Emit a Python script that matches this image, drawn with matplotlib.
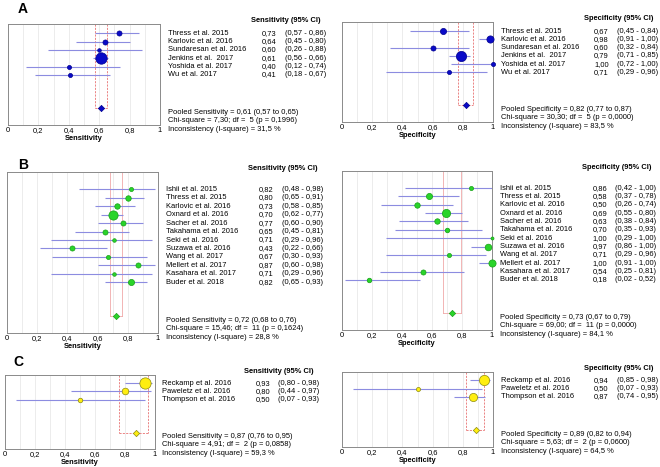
import matplotlib
matplotlib.use("Agg")
import matplotlib.pyplot as plt
import numpy as np

plt.rcParams['font.family'] = ['Liberation Sans', 'DejaVu Sans']

# ---- data ----
names_a = ["Thress et al. 2015", "Karlovic et al. 2016", "Sundaresan et al. 2016",
           "Jenkins et al.  2017", "Yoshida et al. 2017", "Wu et al. 2017"]
sens_a = [0.73, 0.64, 0.60, 0.61, 0.40, 0.41]
sens_a_lo = [0.57, 0.45, 0.26, 0.56, 0.12, 0.18]
sens_a_hi = [0.86, 0.80, 0.88, 0.66, 0.74, 0.67]
sens_a_w = [20, 20, 10, 100, 13, 13]
sens_a_pool = [0.61, 0.57, 0.65]
sens_a_stats = [7.30, 5, 0.1996, 31.5]

spec_a = [0.67, 0.98, 0.60, 0.79, 1.00, 0.71]
spec_a_lo = [0.45, 0.91, 0.32, 0.71, 0.72, 0.29]
spec_a_hi = [0.84, 1.00, 0.84, 0.85, 1.00, 0.96]
spec_a_w = [29, 40, 20, 81, 13, 13]
spec_a_pool = [0.82, 0.77, 0.87]
spec_a_stats = [30.30, 5, 0.0000, 83.5]

names_b = ["Ishii et al. 2015", "Thress et al. 2015", "Karlovic et al. 2016",
           "Oxnard et al. 2016", "Sacher et al. 2016", "Takahama et al. 2016",
           "Seki et al. 2016", "Suzawa et al. 2016", "Wang et al. 2017",
           "Mellert et al. 2017", "Kasahara et al. 2017", "Buder et al. 2018"]
sens_b = [0.82, 0.80, 0.73, 0.70, 0.77, 0.65, 0.71, 0.43, 0.67, 0.87, 0.71, 0.82]
sens_b_lo = [0.48, 0.65, 0.58, 0.62, 0.60, 0.45, 0.29, 0.22, 0.30, 0.60, 0.29, 0.65]
sens_b_hi = [0.98, 0.91, 0.85, 0.77, 0.90, 0.81, 0.96, 0.66, 0.93, 0.98, 0.96, 0.93]
sens_b_w = [13, 23, 23, 66, 20, 20, 10, 20, 13, 20, 10, 29]
sens_b_pool = [0.72, 0.68, 0.76]
sens_b_stats = [15.46, 11, 0.1624, 28.8]

spec_b = [0.86, 0.58, 0.50, 0.69, 0.63, 0.70, 1.00, 0.97, 0.71, 1.00, 0.54, 0.18]
spec_b_lo = [0.42, 0.37, 0.26, 0.55, 0.38, 0.35, 0.29, 0.86, 0.29, 0.91, 0.25, 0.02]
spec_b_hi = [1.00, 0.78, 0.74, 0.80, 0.84, 0.93, 1.00, 1.00, 0.96, 1.00, 0.81, 0.52]
spec_b_w = [13, 29, 23, 52, 23, 16, 7, 34, 13, 40, 20, 16]
spec_b_pool = [0.73, 0.67, 0.79]
spec_b_stats = [69.00, 11, 0.0000, 84.1]

names_c = ["Reckamp et al. 2016", "Paweletz et al. 2016", "Thompson et al. 2016"]
sens_c = [0.93, 0.80, 0.50]
sens_c_lo = [0.80, 0.44, 0.07]
sens_c_hi = [0.98, 0.97, 0.93]
sens_c_w = [98, 34, 16]
sens_c_pool = [0.87, 0.76, 0.95]
sens_c_stats = [4.91, 2, 0.0858, 59.3]

spec_c = [0.94, 0.50, 0.87]
spec_c_lo = [0.85, 0.07, 0.74]
spec_c_hi = [0.98, 0.93, 0.95]
spec_c_w = [81, 13, 52]
spec_c_pool = [0.89, 0.82, 0.94]
spec_c_stats = [5.63, 2, 0.0600, 64.5]

xticks = [0, 0.2, 0.4, 0.6, 0.8, 1]
xticklabels = ["0", "0,2", "0,4", "0,6", "0,8", "1"]

FS = 5.4


def c(v, d=2):
    return f"{v:.{d}f}".replace('.', ',')


def rect(x0, x1, y0, y1):
    return [x0 / 660, 1 - y1 / 467, (x1 - x0) / 660, (y1 - y0) / 467]


def forest(ax, names, est, lo, hi, w, pool, stats, measure, face, edge, top, red_ls, red_c):
    n = len(names)
    rows = np.arange(n)
    prow = n + 3
    ax.set_xlim(0, 1)
    ax.set_ylim(n + 5, top)
    for g in np.arange(0.1, 1.0, 0.1):
        ax.axvline(g, color='#e4e4e4', lw=0.5, zorder=0)
    # pooled CI guide lines
    ax.plot([pool[1], pool[1]], [top, prow], color=red_c, lw=0.6, ls=red_ls, zorder=1)
    ax.plot([pool[2], pool[2]], [top, prow], color=red_c, lw=0.6, ls=red_ls, zorder=1)
    ax.plot([pool[1], pool[2]], [prow, prow], color=red_c, lw=0.6, ls=red_ls, zorder=1)
    ax.hlines(rows, lo, hi, color='#8c8ce0', lw=0.8, zorder=2)
    for r, e, ww in zip(rows, est, w):
        ax.plot(e, r, 'o', ms=0.82 * np.sqrt(ww), mfc=face, mec=edge, mew=0.5,
                zorder=3, clip_on=False)
    ax.plot(pool[0], prow, 'D', ms=3.2, mfc=face, mec=edge, mew=0.5, zorder=3)

    ax.set_xticks(xticks)
    ax.set_xticklabels(xticklabels, fontsize=FS)
    ax.set_yticks([])
    ax.tick_params(axis='x', length=0, pad=1.5)
    ax.set_xlabel(measure, fontsize=FS, fontweight='bold', labelpad=0.5)
    for s in ax.spines.values():
        s.set_color('#8a8a8a')
        s.set_linewidth(0.7)

    tr = ax.get_yaxis_transform()
    ax.text(2.06, top - 0.45, f"{measure} (95% CI)", transform=tr, fontsize=FS,
            fontweight='bold', ha='right', va='center', clip_on=False)
    for r, nm, e, l, h in zip(rows, names, est, lo, hi):
        ax.text(1.05, r, nm, transform=tr, fontsize=FS, va='center')
        ax.text(1.67, r, c(e), transform=tr, fontsize=FS, va='center')
        ax.text(1.82, r, f"({c(l)} - {c(h)})", transform=tr, fontsize=FS, va='center')
    chi, df, p, i2 = stats
    ax.text(1.05, prow + 0.5, f"Pooled {measure} = {c(pool[0])} ({c(pool[1])} to {c(pool[2])})",
            transform=tr, fontsize=FS, va='center')
    ax.text(1.05, prow + 1.5, f"Chi-square = {c(chi)}; df =  {df} (p = {c(p, 4)})",
            transform=tr, fontsize=FS, va='center')
    ax.text(1.05, prow + 2.5, f"Inconsistency (I-square) = {c(i2, 1)} %",
            transform=tr, fontsize=FS, va='center')


fig = plt.figure(figsize=(6.6, 4.67), dpi=100)

blue = ('#0a0ac8', '#00008c')
green = ('#2ad42a', '#16a016')
yellow = ('#ffee10', '#8a8a10')
dash = (0, (2.5, 1.5))

ax = fig.add_axes(rect(8, 160, 24, 125))
forest(ax, names_a, sens_a, sens_a_lo, sens_a_hi, sens_a_w, sens_a_pool, sens_a_stats,
       "Sensitivity", *blue, -1.1, dash, '#e87070')
ax = fig.add_axes(rect(342, 493, 22, 122))
forest(ax, names_a, spec_a, spec_a_lo, spec_a_hi, spec_a_w, spec_a_pool, spec_a_stats,
       "Specificity", *blue, -1.1, dash, '#e87070')
ax = fig.add_axes(rect(7, 158, 172, 333))
forest(ax, names_b, sens_b, sens_b_lo, sens_b_hi, sens_b_w, sens_b_pool, sens_b_stats,
       "Sensitivity", *green, -2.05, '-', '#f0a8a8')
ax = fig.add_axes(rect(342, 492, 171, 330))
forest(ax, names_b, spec_b, spec_b_lo, spec_b_hi, spec_b_w, spec_b_pool, spec_b_stats,
       "Specificity", *green, -2.05, '-', '#f0a8a8')
ax = fig.add_axes(rect(5, 155, 375, 449))
forest(ax, names_c, sens_c, sens_c_lo, sens_c_hi, sens_c_w, sens_c_pool, sens_c_stats,
       "Sensitivity", *yellow, -1.0, dash, '#e87070')
ax = fig.add_axes(rect(342, 493, 372, 447))
forest(ax, names_c, spec_c, spec_c_lo, spec_c_hi, spec_c_w, spec_c_pool, spec_c_stats,
       "Specificity", *yellow, -1.0, dash, '#e87070')

fig.text(18 / 660, 1 - 9 / 467, "A", fontsize=10, fontweight='bold', va='center')
fig.text(18 / 660, 1 - 165 / 467, "B", fontsize=10, fontweight='bold', va='center')
fig.text(13 / 660, 1 - 362 / 467, "C", fontsize=10, fontweight='bold', va='center')

fig.savefig("out.png", dpi=100)
